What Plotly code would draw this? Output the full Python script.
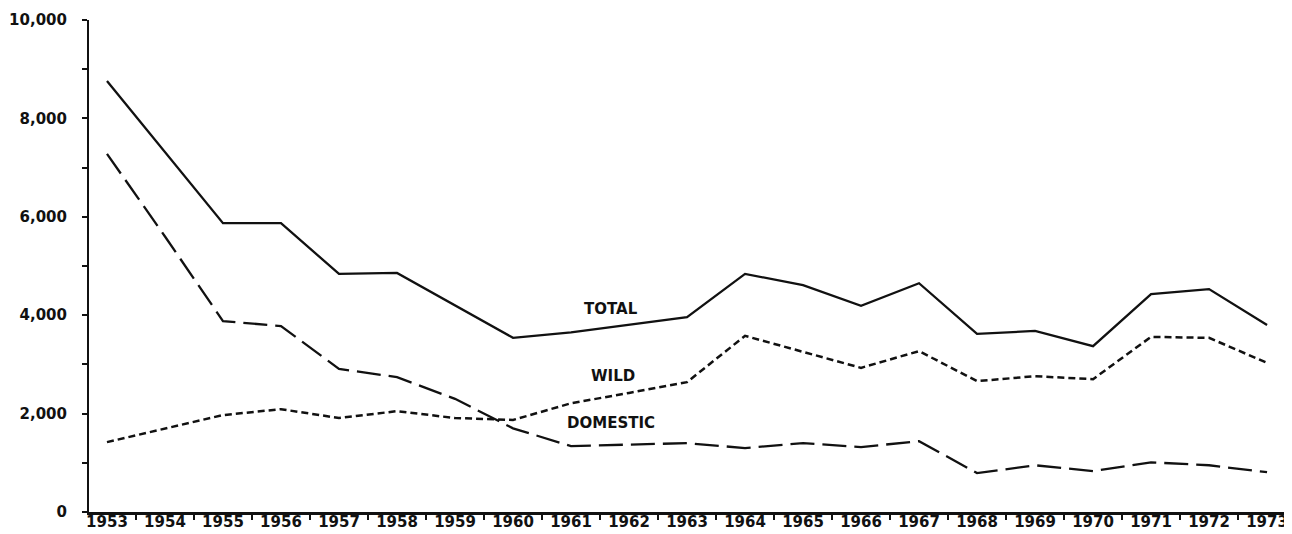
import plotly.graph_objects as go

years = list(range(1953, 1974))
total = [8760, 7320, 5870, 5870, 4840, 4860, 4200, 3540, 3650, 3800, 3960,
         4840, 4610, 4190, 4650, 3620, 3680, 3370, 4430, 4530, 3800]
wild = [1420, 1700, 1970, 2090, 1910, 2050, 1910, 1870, 2210, 2420, 2640,
        3580, 3250, 2930, 3270, 2660, 2760, 2700, 3560, 3540, 3030]
domestic = [7280, 5600, 3880, 3780, 2910, 2740, 2300, 1700, 1340, 1370, 1400,
            1300, 1400, 1320, 1440, 790, 950, 830, 1010, 950, 810]
y_ticks = [0, 2000, 4000, 6000, 8000, 10000]
y_labels = ['0', '2,000', '4,000', '6,000', '8,000', '10,000']
series_labels = [('TOTAL', 1961.69, 4126), ('WILD', 1961.72, 2764), ('DOMESTIC', 1961.69, 1809)]

FONT = 'DejaVu Sans'

fig = go.Figure()
fig.add_trace(go.Scatter(x=years, y=total, mode='lines', name='Total',
                         line=dict(color='#111', width=2.3)))
fig.add_trace(go.Scatter(x=years, y=wild, mode='lines', name='Wild',
                         line=dict(color='#111', width=2.5, dash='7px,4px')))
fig.add_trace(go.Scatter(x=years, y=domestic, mode='lines', name='Domestic',
                         line=dict(color='#111', width=2.3, dash='24px,8px')))

for text, x, y in series_labels:
    fig.add_annotation(x=x, y=y, text=text, showarrow=False,
                       font=dict(family=FONT, size=15, color='#111', weight='bold'))

# page body has an 8px margin, so the figure is a little smaller than the window
fig.update_layout(
    width=1284, height=526,
    margin=dict(l=81, r=0, t=12, b=22),
    plot_bgcolor='white', paper_bgcolor='white',
    showlegend=False,
)
fig.update_xaxes(
    range=[1952.69, 1973.43], automargin=False,
    tickvals=years, ticktext=[str(y) for y in years],
    ticks='', showgrid=False, zeroline=False,
    showline=True, linecolor='#111', linewidth=2.5,
    tickfont=dict(family=FONT, size=15, color='#111', weight='bold'),
    ticklabelstandoff=-6,
    minor=dict(tickvals=[y + 0.5 for y in years], ticks='outside', ticklen=5,
               tickcolor='#111', tickwidth=1.5, showgrid=False),
)
fig.update_yaxes(
    range=[0, 10000], automargin=False,
    tickvals=y_ticks, ticktext=y_labels,
    ticks='outside', ticklen=5, tickcolor='#111', tickwidth=1.5,
    showgrid=False, zeroline=False,
    showline=True, linecolor='#111', linewidth=2,
    tickfont=dict(family=FONT, size=15, color='#111', weight='bold'),
    ticklabelstandoff=12,
    minor=dict(tickvals=[1000, 3000, 5000, 7000, 9000], ticks='outside', ticklen=5,
               tickcolor='#111', tickwidth=1.5, showgrid=False),
)

fig.write_html("out.html")
